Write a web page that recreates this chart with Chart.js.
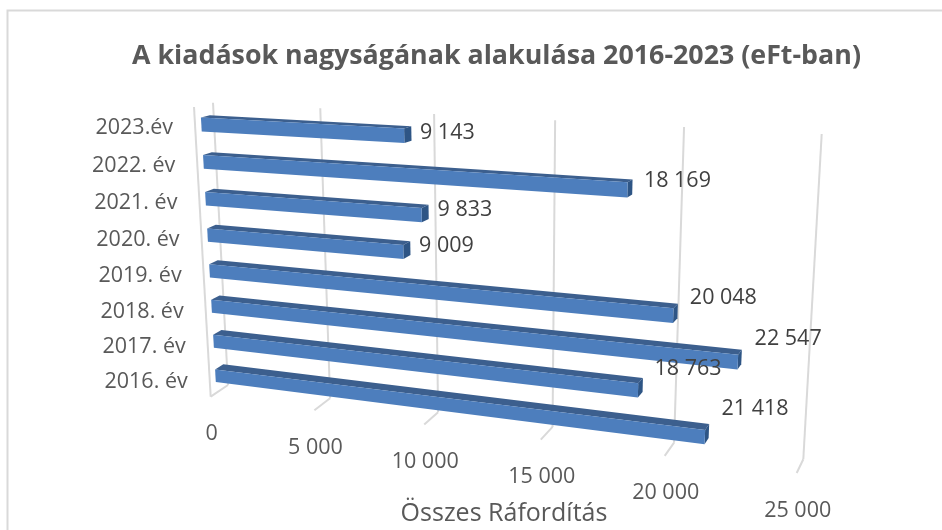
<!DOCTYPE html>
<html lang="hu">
<head>
<meta charset="utf-8">
<style>html,body{margin:0;padding:0;background:#fff}canvas{display:block}</style>
<script src="https://cdn.jsdelivr.net/npm/chart.js@4/dist/chart.umd.min.js"></script>
</head>
<body>
<canvas id="c" width="942" height="530"></canvas>
<script>
const categories = ['2023.év','2022. év','2021. év','2020. év','2019. év','2018. év','2017. év','2016. év'];
const values = [9143,18169,9833,9009,20048,22547,18763,21418];
const valueLabels = ['9 143','18 169','9 833','9 009','20 048','22 547','18 763','21 418'];
const tickValues = [0,5000,10000,15000,20000,25000];
const tickLabels = ['0','5 000','10 000','15 000','20 000','25 000'];
const chartTitle = 'A kiadások nagyságának alakulása 2016-2023 (eFt-ban)';
const axisTitle = 'Összes Ráfordítás';

// Perspective of the 3D box: unit square (value fraction, category fraction) -> screen
function squareToQuad(q){
  const [x0,y0,x1,y1,x2,y2,x3,y3]=q;
  const dx1=x1-x2,dx2=x3-x2,sx=x0-x1+x2-x3,dy1=y1-y2,dy2=y3-y2,sy=y0-y1+y2-y3;
  const det=dx1*dy2-dx2*dy1;
  const g=(sx*dy2-dx2*sy)/det,h=(dx1*sy-sx*dy1)/det;
  const a=x1-x0+g*x1,b=x3-x0+h*x3,c=x0,d=y1-y0+g*y1,e=y3-y0+h*y3,f=y0;
  return (u,t)=>{const w=g*u+h*t+1;return [(a*u+b*t+c)/w,(d*u+e*t+f)/w];};
}
const wallPlane = squareToQuad([213,102.7, 821.7,134, 803.3,459.3, 228,385]);
const frontPlane = squareToQuad([194,107, 815.7,138, 796.7,473, 210.7,396.7]);
const proj=(u,t,d)=>{const f=frontPlane(u,t),w=wallPlane(u,t);return [f[0]+(w[0]-f[0])*d,f[1]+(w[1]-f[1])*d];};
const BAR_D0=0.33, BAR_D1=0.8;

function poly(ctx,pts,fill){
  ctx.beginPath();pts.forEach((p,i)=>i?ctx.lineTo(p[0],p[1]):ctx.moveTo(p[0],p[1]));ctx.closePath();
  ctx.fillStyle=fill;ctx.fill();
}
function seg(ctx,a,b){ctx.beginPath();ctx.moveTo(a[0],a[1]);ctx.lineTo(b[0],b[1]);ctx.stroke();}

const box3d = {
  id:'box3d',
  beforeDraw(chart){
    const ctx=chart.ctx;
    ctx.save();
    ctx.strokeStyle='#d9d9d9';ctx.lineWidth=2;
    ctx.strokeRect(7.5,10.5,945,530);
    const xs=chart.scales.x,a=chart.chartArea;
    const U=v=>(xs.getPixelForValue(v)-a.left)/a.width;
    ctx.lineWidth=2;
    tickValues.forEach(v=>{
      const u=U(v);
      seg(ctx,wallPlane(u,0),wallPlane(u,1));
      seg(ctx,wallPlane(u,1),frontPlane(u,1));
    });
    seg(ctx,frontPlane(0,0),frontPlane(0,1));
    ctx.restore();
  },
  beforeDatasetDraw(chart,args){
    const ctx=chart.ctx,a=chart.chartArea;
    const U=x=>(x-a.left)/a.width,T=y=>(y-a.top)/a.height;
    ctx.save();
    args.meta.data.forEach(el=>{
      const p=el.getProps(['x','y','base','height'],true);
      const u0=U(p.base),u1=U(p.x),t0=T(p.y-p.height/2),t1=T(p.y+p.height/2);
      poly(ctx,[proj(u0,t0,BAR_D0),proj(u1,t0,BAR_D0),proj(u1,t0,BAR_D1),proj(u0,t0,BAR_D1)],'#3c5f8e');
      poly(ctx,[proj(u1,t0,BAR_D0),proj(u1,t1,BAR_D0),proj(u1,t1,BAR_D1),proj(u1,t0,BAR_D1)],'#2e5585');
      poly(ctx,[proj(u0,t0,BAR_D0),proj(u1,t0,BAR_D0),proj(u1,t1,BAR_D0),proj(u0,t1,BAR_D0)],'#4d7ebd');
    });
    ctx.restore();
    return false;
  },
  afterDatasetsDraw(chart){
    const ctx=chart.ctx,a=chart.chartArea,xs=chart.scales.x,ys=chart.scales.y;
    ctx.save();
    ctx.textBaseline='middle';
    // category labels
    ctx.font='21.5px "Open Sans"';ctx.fillStyle='#595959';ctx.textAlign='right';
    categories.forEach((c,i)=>{
      const p=frontPlane(0,(ys.getPixelForValue(i)-a.top)/a.height);
      ctx.fillText(c,p[0]-22,p[1]+2.2);
    });
    // value-axis labels
    ctx.textAlign='center';
    tickValues.forEach((v,i)=>{
      const p=frontPlane((xs.getPixelForValue(v)-a.left)/a.width,1);
      ctx.fillText(tickLabels[i],p[0]+1,p[1]+37.5);
    });
    // axis title
    ctx.font='25px "Open Sans"';
    ctx.fillText(axisTitle,504,514);
    // data labels
    ctx.font='21.5px "Open Sans"';ctx.fillStyle='#404040';ctx.textAlign='left';
    chart.getDatasetMeta(0).data.forEach((el,i)=>{
      const u=(el.x-a.left)/a.width,t=(el.y-a.top)/a.height;
      const p=proj(u,t,BAR_D0);
      ctx.fillText(valueLabels[i],p[0]+15+2*u,p[1]+1-27*u*(0.32+t));
    });
    ctx.restore();
  }
};

new Chart(document.getElementById('c'),{
  type:'bar',
  data:{labels:categories,datasets:[{label:axisTitle,data:values,backgroundColor:'#4d7ebd',barPercentage:0.37,categoryPercentage:1}]},
  plugins:[box3d],
  options:{
    indexAxis:'y',responsive:false,animation:false,
    layout:{padding:{left:51}},
    scales:{x:{display:false,min:0,max:25000},y:{display:false}},
    plugins:{
      legend:{display:false},tooltip:{enabled:false},
      title:{display:true,text:chartTitle,color:'#595959',font:{family:'"Open Sans"',size:26.8,weight:'bold'},padding:{top:40,bottom:10}}
    }
  }
});
</script>
</body>
</html>
